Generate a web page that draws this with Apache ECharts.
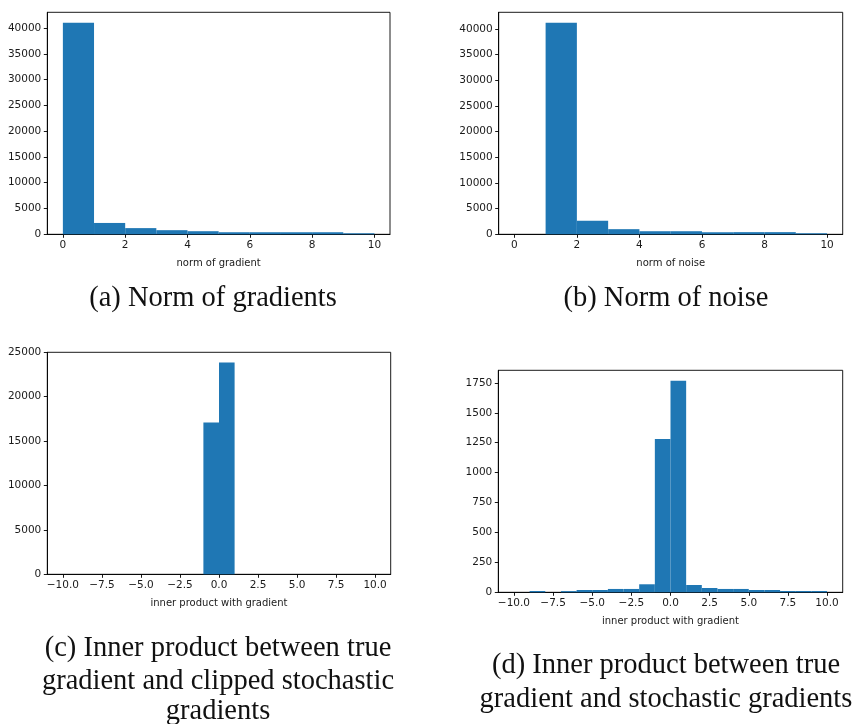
<!DOCTYPE html>
<html>
<head>
<meta charset="utf-8">
<script src="https://cdn.jsdelivr.net/npm/echarts@6/dist/echarts.min.js"></script>
<style>
html,body{margin:0;padding:0;background:#fff;}
#c{width:857px;height:724px;}
</style>
</head>
<body>
<div id="c"></div>
<script>
// ---- data ----
const normEdges = [0,1,2,3,4,5,6,7,8,9,10];
const gradNormCounts = [41000, 2200, 1200, 800, 600, 400, 400, 400, 400, 200];
const noiseNormCounts = [0, 41200, 2650, 1000, 600, 600, 420, 420, 420, 200];
const innerEdges = [-10,-9,-8,-7,-6,-5,-4,-3,-2,-1,0,1,2,3,4,5,6,7,8,9,10];
const clippedInnerCounts = [0,0,0,0,0,0,0,0,0,17100,23850,0,0,0,0,0,0,0,0,0];
const innerCounts = [0,11,0,10,19,19,28,28,67,1280,1767,61,36,28,28,19,19,11,11,11];

const normTicks = [0,2,4,6,8,10];
const innerTicks = [-10,-7.5,-5,-2.5,0,2.5,5,7.5,10];
const normYTicks = [0,5000,10000,15000,20000,25000,30000,35000,40000];
const clippedYTicks = [0,5000,10000,15000,20000,25000];
const innerYTicks = [0,250,500,750,1000,1250,1500,1750];

const xNames = ['norm of gradient','norm of noise','inner product with gradient','inner product with gradient'];
const captions = [
  ['(a) Norm of gradients'],
  ['(b) Norm of noise'],
  ['(c) Inner product between true','gradient and clipped stochastic','gradients'],
  ['(d) Inner product between true','gradient and stochastic gradients']
];

// ---- build ----
function binData(edges, counts){
  return counts.map((c,i)=>[edges[i], edges[i+1], c]);
}
const panels = [
  {grid:{left:47.3, top:12.3, width:342.7, height:222}, xr:[-0.5,10.5], xt:normTicks, yr:[0,43050], yt:normYTicks, data:binData(normEdges,gradNormCounts), dec:false},
  {grid:{left:498.7, top:12.3, width:344, height:222}, xr:[-0.5,10.5], xt:normTicks, yr:[0,43260], yt:normYTicks, data:binData(normEdges,noiseNormCounts), dec:false},
  {grid:{left:47.3, top:352.3, width:343.4, height:222}, xr:[-11,11], xt:innerTicks, yr:[0,25000], yt:clippedYTicks, data:binData(innerEdges,clippedInnerCounts), dec:true},
  {grid:{left:498.3, top:370.3, width:344.4, height:222}, xr:[-11,11], xt:innerTicks, yr:[0,1855], yt:innerYTicks, data:binData(innerEdges,innerCounts), dec:true}
];

const textColor = '#1a1a1a';
const tickFont = {fontFamily:'DejaVu Sans', fontSize:10.5, color:textColor};

function fmt(dec){
  return function(v){
    const s = dec ? Number(v).toFixed(1) : String(Math.round(v));
    return s.replace('-', '\u2212');
  };
}

const option = {
  animation:false,
  backgroundColor:'#fff',
  grid:[], xAxis:[], yAxis:[], series:[], graphic:[]
};

panels.forEach((p,i)=>{
  option.grid.push(Object.assign({show:true, borderColor:'#000', borderWidth:0.9, backgroundColor:'transparent', containLabel:false}, p.grid));
  option.xAxis.push({
    type:'value', gridIndex:i, min:p.xr[0], max:p.xr[1],
    name:xNames[i], nameLocation:'middle', nameGap:24,
    nameTextStyle:{fontFamily:'DejaVu Sans', fontSize:10, color:textColor},
    axisLine:{show:true, onZero:false, lineStyle:{color:'#000', width:0.9}},
    axisTick:{show:true, length:3.5, lineStyle:{color:'#000', width:0.9}, customValues:p.xt},
    axisLabel:Object.assign({margin:5, customValues:p.xt, formatter:fmt(p.dec)}, tickFont),
    splitLine:{show:false}
  });
  option.yAxis.push({
    type:'value', gridIndex:i, min:p.yr[0], max:p.yr[1],
    axisLine:{show:true, onZero:false, lineStyle:{color:'#000', width:0.9}},
    axisTick:{show:true, length:3.5, lineStyle:{color:'#000', width:0.9}, customValues:p.yt},
    axisLabel:Object.assign({margin:6, customValues:p.yt, formatter:fmt(false)}, tickFont),
    splitLine:{show:false}
  });
  option.series.push({
    type:'custom', xAxisIndex:i, yAxisIndex:i, data:p.data,
    encode:{x:[0,1], y:2},
    renderItem:function(params, api){
      const a = api.coord([api.value(0), api.value(2)]);
      const b = api.coord([api.value(1), 0]);
      return {type:'rect', shape:{x:a[0], y:a[1], width:b[0]-a[0], height:b[1]-a[1]}, style:{fill:'#1f77b4'}};
    }
  });
});

const capPos = [
  {x:213, ys:[299]},
  {x:666, ys:[299]},
  {x:218, ys:[649,682,712]},
  {x:666, ys:[666,700]}
];
captions.forEach((lines,i)=>{
  lines.forEach((t,j)=>{
    option.graphic.push({type:'text', x:capPos[i].x, y:capPos[i].ys[j],
      style:{text:t, fontFamily:'Liberation Serif', fontSize:28.5, fill:'#111', textAlign:'center', textVerticalAlign:'middle'}});
  });
});

const chart = echarts.init(document.getElementById('c'), null, {renderer:'canvas'});
chart.setOption(option);
</script>
</body>
</html>
